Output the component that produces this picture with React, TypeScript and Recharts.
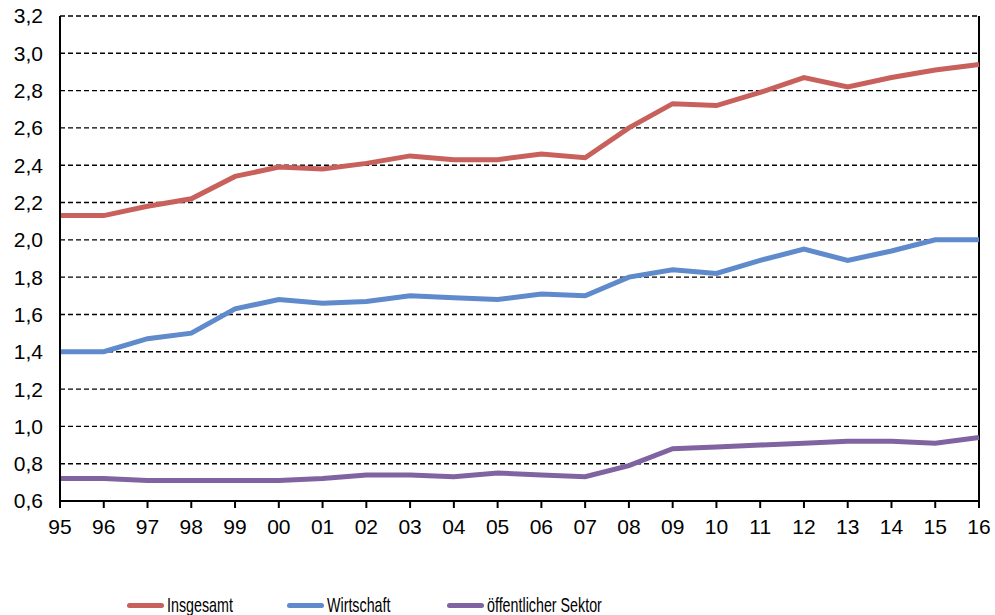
import { LineChart, Line, XAxis, YAxis, CartesianGrid, Legend, ReferenceLine } from 'recharts'

const years = ['95', '96', '97', '98', '99', '00', '01', '02', '03', '04', '05', '06', '07', '08', '09', '10', '11', '12', '13', '14', '15', '16']
const insgesamt = [2.13, 2.13, 2.18, 2.22, 2.34, 2.39, 2.38, 2.41, 2.45, 2.43, 2.43, 2.46, 2.44, 2.6, 2.73, 2.72, 2.79, 2.87, 2.82, 2.87, 2.91, 2.94]
const wirtschaft = [1.4, 1.4, 1.47, 1.5, 1.63, 1.68, 1.66, 1.67, 1.7, 1.69, 1.68, 1.71, 1.7, 1.8, 1.84, 1.82, 1.89, 1.95, 1.89, 1.94, 2.0, 2.0]
const oeffentlich = [0.72, 0.72, 0.71, 0.71, 0.71, 0.71, 0.72, 0.74, 0.74, 0.73, 0.75, 0.74, 0.73, 0.79, 0.88, 0.89, 0.9, 0.91, 0.92, 0.92, 0.91, 0.94]
const yTicks = [0.6, 0.8, 1.0, 1.2, 1.4, 1.6, 1.8, 2.0, 2.2, 2.4, 2.6, 2.8, 3.0, 3.2]

const series = [
  { key: 'insgesamt', name: 'Insgesamt', color: '#C8605C' },
  { key: 'wirtschaft', name: 'Wirtschaft', color: '#5F8ACB' },
  { key: 'oeffentlich', name: 'öffentlicher Sektor', color: '#8064A2' },
]

const data = years.map((y, i) => ({
  year: y,
  insgesamt: insgesamt[i],
  wirtschaft: wirtschaft[i],
  oeffentlich: oeffentlich[i],
}))

const font = '"Liberation Sans", Arial, sans-serif'

function LegendRow() {
  return (
    <div style={{ display: 'flex', paddingLeft: 127, fontFamily: font, fontSize: 21, color: '#000' }}>
      {series.map((s) => (
        <div key={s.key} style={{ display: 'flex', alignItems: 'center', width: 160, flexShrink: 0 }}>
          <span style={{ display: 'inline-block', flexShrink: 0, width: 37, height: 5, borderRadius: 3, background: s.color, marginRight: 3 }} />
          <span style={{ display: 'inline-block', whiteSpace: 'nowrap', transform: 'scaleX(0.68)', transformOrigin: 'left center' }}>{s.name}</span>
        </div>
      ))}
    </div>
  )
}

export default function App() {
  return (
    <div style={{ position: 'absolute', left: 0, top: 0, background: '#fff' }}>
      <LineChart width={995} height={615} data={data} margin={{ top: 16, right: 16, left: 0, bottom: 0 }}>
        <CartesianGrid stroke="#000" strokeWidth={1.4} strokeDasharray="5 3" vertical={false} horizontal />
        <XAxis
          dataKey="year"
          height={92}
          stroke="#000"
          strokeWidth={2}
          tickLine={{ stroke: '#000', strokeWidth: 2 }}
          tickSize={7}
          tick={{ fill: '#000', fontSize: 21, fontFamily: font, dy: 9 }}
          interval={0}
        />
        <YAxis
          domain={[0.6, 3.2]}
          ticks={yTicks}
          width={60}
          stroke="#000"
          strokeWidth={2}
          tickLine={false}
          tickMargin={11}
          tick={{ fill: '#000', fontSize: 21, fontFamily: font }}
          tickFormatter={(v) => Number(v).toFixed(1).replace('.', ',')}
          interval={0}
        />
        <ReferenceLine x="16" stroke="#000" strokeWidth={2} />
        {series.map((s) => (
          <Line
            key={s.key}
            type="linear"
            dataKey={s.key}
            name={s.name}
            stroke={s.color}
            strokeWidth={5}
            dot={false}
            isAnimationActive={false}
          />
        ))}
        <Legend verticalAlign="bottom" height={22} content={() => <LegendRow />} />
      </LineChart>
    </div>
  )
}
